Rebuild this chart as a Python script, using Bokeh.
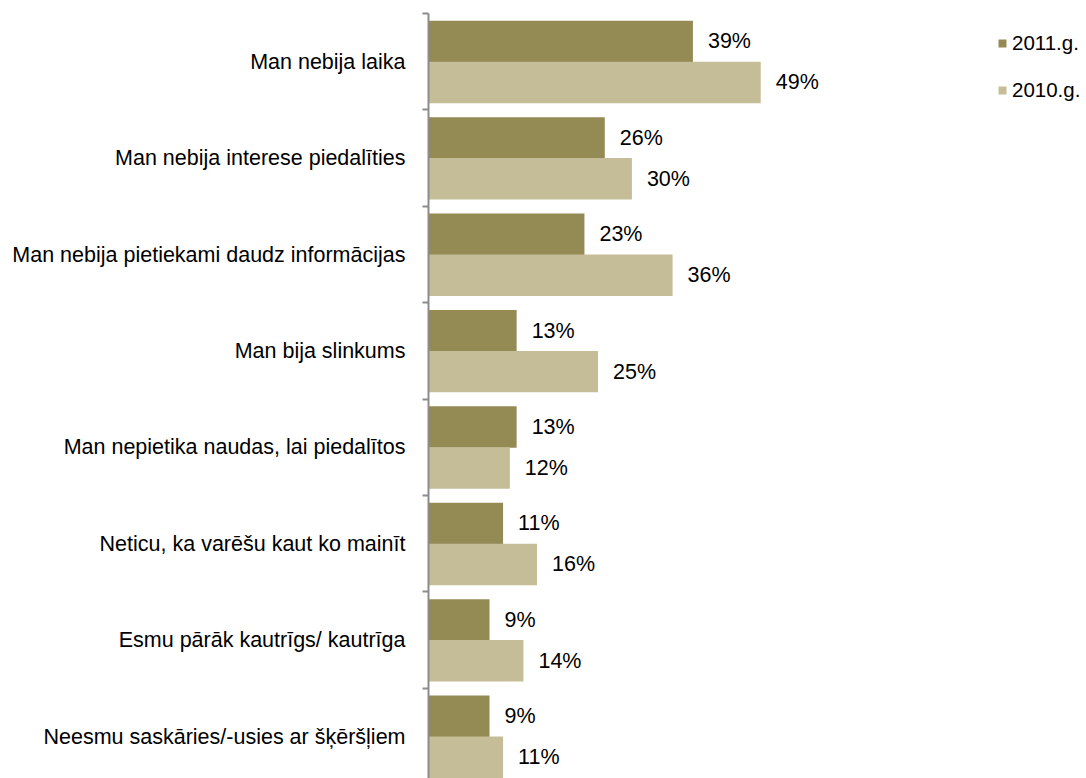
from bokeh.plotting import figure
from bokeh.models import Range1d, FixedTicker, Legend, LegendItem, ColumnDataSource
from bokeh.core.properties import value
from bokeh.embed import file_html
from bokeh.resources import INLINE

categories = [
    "Man nebija laika",
    "Man nebija interese piedalīties",
    "Man nebija pietiekami daudz informācijas",
    "Man bija slinkums",
    "Man nepietika naudas, lai piedalītos",
    "Neticu, ka varēšu kaut ko mainīt",
    "Esmu pārāk kautrīgs/ kautrīga",
    "Neesmu saskāries/-usies ar šķēršļiem",
]
series_names = ["2011.g.", "2010.g."]
values_2011 = [39, 26, 23, 13, 13, 11, 9, 9]
values_2010 = [49, 30, 36, 25, 12, 16, 14, 11]
colors = ["#948A54", "#C4BD97"]

FONT = "Liberation Sans"
FS = "21.5px"
LFS = "20.5px"

n = len(categories)
W, H = 1086, 778
left = 428
top = 13
px_per_unit = 6.78
frame_h = H - top
band_px = 96.4

p = figure(width=W, height=H, output_backend="svg", toolbar_location=None,
           x_axis_location=None,
           x_range=Range1d(0, (W - left) / px_per_unit),
           y_range=Range1d(frame_h / band_px, 0),
           min_border_left=left, min_border_top=top, min_border_bottom=0,
           min_border_right=0)
p.outline_line_color = None
p.xgrid.visible = False
p.ygrid.visible = False
p.background_fill_color = "white"
p.border_fill_color = "white"

offsets = [0.29, 0.715]
bar_h = 0.43
renderers = []
for k, vals in enumerate([values_2011, values_2010]):
    ys = [i + offsets[k] for i in range(n)]
    src = ColumnDataSource(dict(y=ys, right=vals,
                                lab=[f"{v}%" for v in vals]))
    r = p.hbar(y="y", left=0, right="right", height=bar_h, source=src,
               fill_color=colors[k], line_color=None)
    renderers.append(r)
    p.text(x="right", y="y", text="lab", source=src, x_offset=15,
           text_baseline="middle", text_align="left",
           text_font=value(FONT), text_font_size=FS, text_color="black")

yax = p.yaxis[0]
yax.ticker = FixedTicker(ticks=[i + 0.5 for i in range(n)],
                         minor_ticks=[float(i) for i in range(n + 1)])
yax.major_label_overrides = {i + 0.5: c for i, c in enumerate(categories)}
yax.major_tick_in = 0
yax.major_tick_out = 0
yax.minor_tick_in = 0
yax.minor_tick_out = 6
yax.minor_tick_line_color = "#8c8c8c"
yax.minor_tick_line_width = 2
yax.axis_line_color = "#8c8c8c"
yax.axis_line_width = 2
yax.major_label_standoff = 17
yax.major_label_text_font = FONT
yax.major_label_text_font_size = FS
yax.major_label_text_color = "black"

legend_h = 24 * 2 + 23
legend = Legend(items=[LegendItem(label=series_names[k], renderers=[renderers[k]])
                       for k in range(2)],
                location=(569, frame_h - 17.5 - legend_h),
                orientation="vertical",
                glyph_width=10, glyph_height=10, label_height=24,
                spacing=23, label_standoff=5, padding=0, margin=0,
                border_line_color=None, background_fill_alpha=0,
                label_text_font=FONT, label_text_font_size=LFS,
                label_text_color="black")
p.add_layout(legend)

open("out.html", "w").write(file_html(p, INLINE))
